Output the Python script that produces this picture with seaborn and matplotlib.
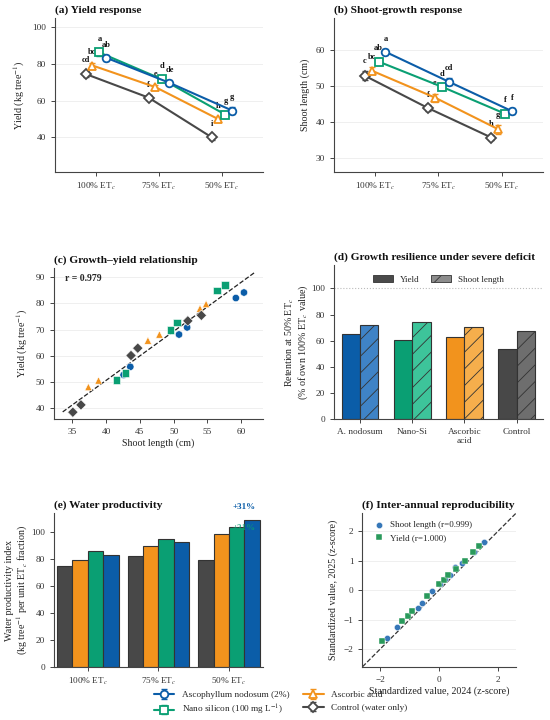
import numpy as np
import pandas as pd
import matplotlib
matplotlib.use('Agg')
import matplotlib.pyplot as plt
import seaborn as sns
from matplotlib.lines import Line2D
from matplotlib.patches import Patch
from matplotlib.legend_handler import HandlerTuple

sns.set_theme(style='ticks')
plt.rcParams['font.family'] = ['Liberation Serif', 'DejaVu Serif']
plt.rcParams['mathtext.fontset'] = 'stix'
plt.rcParams['axes.edgecolor'] = '#444444'
plt.rcParams['axes.linewidth'] = 0.8
plt.rcParams['xtick.color'] = '#444444'
plt.rcParams['ytick.color'] = '#444444'
plt.rcParams['xtick.labelcolor'] = '#333333'
plt.rcParams['ytick.labelcolor'] = '#333333'
plt.rcParams['xtick.major.size'] = 3
plt.rcParams['ytick.major.size'] = 3
plt.rcParams['xtick.major.width'] = 0.7
plt.rcParams['ytick.major.width'] = 0.7
plt.rcParams['xtick.labelsize'] = 6.7
plt.rcParams['ytick.labelsize'] = 6.7
plt.rcParams['axes.labelsize'] = 7.2
plt.rcParams['axes.labelcolor'] = '#222222'
plt.rcParams['hatch.linewidth'] = 0.6

# ---- data ----
treatments = ['Ascophyllum nodosum (2%)', 'Nano silicon (100 mg L$^{-1}$)',
              'Ascorbic acid', 'Control (water only)']
short_names = ['A. nodosum', 'Nano-Si', 'Ascorbic\nacid', 'Control']
levels = ['100% ET$_c$', '75% ET$_c$', '50% ET$_c$']

colors = ['#0B5DA8', '#0A9F73', '#F2931D', '#484848']
light_colors = ['#3F83C6', '#3DC49A', '#F6AE4C', '#6E6E6E']
markers = ['o', 's', '^', 'D']
offsets = [0.165, 0.055, -0.055, -0.165]

# (a) yield means and SE, (b) shoot length means and SE
yield_asco = [83.3, 69.7, 54.5]
yield_nano = [86.2, 71.5, 52.3]
yield_ascorbic = [79.1, 67.3, 49.8]
yield_control = [74.5, 61.6, 40.0]
yield_se_asco = [1.5, 1.4, 2.0]
yield_se_nano = [1.7, 1.5, 1.6]
yield_se_ascorbic = [1.6, 1.4, 1.5]
yield_se_control = [1.8, 1.5, 1.4]
yield_letters_asco = ['ab', 'de', 'g']
yield_letters_nano = ['a', 'd', 'g']
yield_letters_ascorbic = ['bc', 'e', 'h']
yield_letters_control = ['cd', 'f', 'i']

shoot_asco = [59.6, 51.3, 43.1]
shoot_nano = [56.9, 49.9, 42.4]
shoot_ascorbic = [54.4, 46.9, 38.1]
shoot_control = [53.0, 44.0, 35.8]
shoot_se_asco = [0.8, 0.9, 0.8]
shoot_se_nano = [0.9, 0.8, 0.9]
shoot_se_ascorbic = [1.0, 1.1, 1.2]
shoot_se_control = [1.3, 0.9, 0.8]
shoot_letters_asco = ['a', 'cd', 'f']
shoot_letters_nano = ['ab', 'd', 'f']
shoot_letters_ascorbic = ['bc', 'e', 'g']
shoot_letters_control = ['c', 'f', 'h']

# (c) plot-level points (two seasons per level)
pts_shoot_asco = [42.6, 43.6, 50.8, 52.0, 59.2, 60.4]
pts_yield_asco = [52.7, 55.8, 68.1, 70.8, 82.0, 84.1]
pts_shoot_nano = [41.6, 42.9, 49.5, 50.5, 56.4, 57.6]
pts_yield_nano = [50.8, 53.4, 69.8, 72.7, 84.9, 87.0]
pts_shoot_ascorbic = [37.4, 38.9, 46.2, 47.9, 53.9, 54.8]
pts_yield_ascorbic = [48.1, 50.6, 65.8, 68.1, 78.0, 79.7]
pts_shoot_control = [35.1, 36.3, 43.7, 44.7, 52.1, 54.1]
pts_yield_control = [38.5, 41.3, 60.1, 62.9, 73.3, 75.4]

# (d) retention at 50% ETc (% of own 100% ETc)
retention_yield = [65.4, 60.8, 62.6, 53.8]
retention_shoot = [72.1, 74.4, 70.3, 67.4]

# (e) water productivity index
wp_control = [74.6, 82.1, 79.6]
wp_ascorbic = [79.1, 89.6, 99.0]
wp_nano = [86.3, 95.3, 104.0]
wp_asco = [83.1, 92.5, 108.7]

# (f) standardized values 2024 vs 2025
z_shoot_2024 = [-1.76, -1.42, -0.73, -0.59, -0.24, 0.02, 0.19, 0.375, 0.55, 0.79, 1.17, 1.51]
z_shoot_2025 = [-1.61, -1.25, -0.61, -0.45, -0.03, 0.20, 0.36, 0.51, 0.79, 0.93, 1.30, 1.64]
z_yield_2024 = [-1.93, -1.25, -1.07, -0.93, -0.40, 0.01, 0.17, 0.30, 0.56, 0.89, 1.15, 1.36]
z_yield_2025 = [-1.72, -1.06, -0.88, -0.70, -0.19, 0.19, 0.34, 0.50, 0.70, 1.00, 1.29, 1.50]

fig = plt.figure(figsize=(5.5, 7.2), dpi=100)

ax_a = fig.add_axes([0.100, 0.761, 0.378, 0.214])
ax_b = fig.add_axes([0.607, 0.761, 0.380, 0.214])
ax_c = fig.add_axes([0.098, 0.418, 0.380, 0.210])
ax_d = fig.add_axes([0.607, 0.418, 0.380, 0.214])
ax_e = fig.add_axes([0.098, 0.074, 0.380, 0.213])
ax_f = fig.add_axes([0.659, 0.074, 0.279, 0.213])


def title(ax, text):
    ax.set_title(text, loc='left', fontweight='bold', fontsize=8.2, pad=4, color='#111111')


# ---- (a) and (b) response panels ----
yield_means = [yield_asco, yield_nano, yield_ascorbic, yield_control]
yield_ses = [yield_se_asco, yield_se_nano, yield_se_ascorbic, yield_se_control]
yield_lets = [yield_letters_asco, yield_letters_nano, yield_letters_ascorbic, yield_letters_control]
shoot_means = [shoot_asco, shoot_nano, shoot_ascorbic, shoot_control]
shoot_ses = [shoot_se_asco, shoot_se_nano, shoot_se_ascorbic, shoot_se_control]
shoot_lets = [shoot_letters_asco, shoot_letters_nano, shoot_letters_ascorbic, shoot_letters_control]

legend_handles = []
for ax, means, ses, lets in [(ax_a, yield_means, yield_ses, yield_lets),
                             (ax_b, shoot_means, shoot_ses, shoot_lets)]:
    for i in [3, 2, 1, 0]:
        xs = np.arange(3) + offsets[i]
        eb = ax.errorbar(xs, means[i], yerr=ses[i], fmt='none', ecolor=colors[i],
                         elinewidth=1.0, capsize=2, capthick=1.0, zorder=2)
        sns.lineplot(x=xs, y=means[i], ax=ax, color=colors[i], marker=markers[i],
                     markersize=5.5, markerfacecolor='white', markeredgecolor=colors[i],
                     markeredgewidth=1.3, linewidth=1.5, zorder=3)
        for x, m, s, l in zip(xs, means[i], ses[i], lets[i]):
            ax.annotate(l, (x, m + s), xytext=(0, 4.5), textcoords='offset points',
                        ha='center', va='bottom', fontsize=6, fontweight='bold',
                        color='#111111')
        if ax is ax_a:
            proxy = Line2D([], [], color=colors[i], marker=markers[i], markersize=5.5,
                           markerfacecolor='white', markeredgecolor=colors[i],
                           markeredgewidth=1.3, linewidth=1.5)
            legend_handles.append((i, (eb, proxy)))
    ax.set_xticks(range(3))
    ax.set_xticklabels(levels)
    ax.set_xlim(-0.65, 2.65)
    ax.yaxis.grid(True, color='#ececec', lw=0.6)
    ax.set_axisbelow(True)
    ax.set_xlabel('')
    sns.despine(ax=ax)

ax_a.set_ylim(21, 105)
ax_a.set_yticks([40, 60, 80, 100])
ax_a.set_ylabel('Yield (kg tree$^{-1}$)')
title(ax_a, '(a) Yield response')

ax_b.set_ylim(26.2, 69)
ax_b.set_yticks([30, 40, 50, 60])
ax_b.set_ylabel('Shoot length (cm)')
title(ax_b, '(b) Shoot-growth response')

# ---- (c) growth-yield relationship ----
pts_shoot = [pts_shoot_asco, pts_shoot_nano, pts_shoot_ascorbic, pts_shoot_control]
pts_yield = [pts_yield_asco, pts_yield_nano, pts_yield_ascorbic, pts_yield_control]
scatter_df = pd.concat([
    pd.DataFrame({'shoot': pts_shoot[i], 'yield': pts_yield[i], 'treatment': treatments[i]})
    for i in range(4)], ignore_index=True)
sns.scatterplot(data=scatter_df, x='shoot', y='yield', hue='treatment', style='treatment',
                hue_order=treatments, style_order=treatments, palette=colors,
                markers=dict(zip(treatments, markers)), s=28, edgecolor='white',
                linewidth=0.4, legend=False, ax=ax_c, zorder=3)
slope, intercept = np.polyfit(scatter_df['shoot'], scatter_df['yield'], 1)
fit_x = np.linspace(scatter_df['shoot'].min() - 1.5, scatter_df['shoot'].max() + 1.5, 50)
ax_c.plot(fit_x, slope * fit_x + intercept, ls='--', color='#222222', lw=0.9, zorder=2)
ax_c.text(0.053, 0.93, 'r = 0.979', transform=ax_c.transAxes, fontsize=7,
          fontweight='bold', ha='left', va='center')
ax_c.set_xlim(32.3, 63.2)
ax_c.set_ylim(35.9, 93.5)
ax_c.set_xticks([35, 40, 45, 50, 55, 60])
ax_c.set_yticks([40, 50, 60, 70, 80, 90])
ax_c.yaxis.grid(True, color='#ececec', lw=0.6)
ax_c.set_axisbelow(True)
ax_c.set_xlabel('Shoot length (cm)', labelpad=2)
ax_c.set_ylabel('Yield (kg tree$^{-1}$)')
sns.despine(ax=ax_c)
title(ax_c, '(c) Growth\u2013yield relationship')

# ---- (d) retention bars ----
ret_df = pd.DataFrame({
    'cat': short_names * 2,
    'metric': ['Yield'] * 4 + ['Shoot length'] * 4,
    'value': retention_yield + retention_shoot,
})
ax_d.axhline(100, color='#bbbbbb', ls=':', lw=0.8, zorder=0)
sns.barplot(data=ret_df, x='cat', y='value', hue='metric', order=short_names,
            hue_order=['Yield', 'Shoot length'], width=0.7, saturation=1,
            errorbar=None, legend=False, edgecolor='#333333', linewidth=0.8, ax=ax_d)
for k, cont in enumerate(ax_d.containers):
    bars = sorted(cont.patches, key=lambda p: p.get_x())
    for j, bar in enumerate(bars):
        if k == 0:
            bar.set_facecolor(colors[j])
        else:
            bar.set_facecolor(light_colors[j])
            bar.set_hatch('//')
ax_d.set_ylim(0, 118)
ax_d.set_yticks([0, 20, 40, 60, 80, 100])
ax_d.set_xlabel('')
ax_d.set_ylabel('Retention at 50% ET$_c$\n(% of own 100% ET$_c$ value)',
                labelpad=1, linespacing=1.05)
ax_d.legend(handles=[Patch(facecolor='#4a4a4a', edgecolor='#333333', lw=0.6, label='Yield'),
                     Patch(facecolor='#8c8c8c', edgecolor='#333333', lw=0.6, hatch='//',
                           label='Shoot length')],
            loc='upper center', ncol=2, frameon=False, fontsize=6.5,
            handlelength=2.2, handleheight=0.8, columnspacing=1.2,
            bbox_to_anchor=(0.5, 0.985))
sns.despine(ax=ax_d)
title(ax_d, '(d) Growth resilience under severe deficit')

# ---- (e) water productivity ----
wp_order = [3, 2, 1, 0]
wp_vals = [wp_asco, wp_nano, wp_ascorbic, wp_control]
wp_df = pd.concat([
    pd.DataFrame({'level': levels, 'wp': wp_vals[i], 'treatment': treatments[i]})
    for i in wp_order], ignore_index=True)
sns.barplot(data=wp_df, x='level', y='wp', hue='treatment', order=levels,
            hue_order=[treatments[i] for i in wp_order],
            palette=[colors[i] for i in wp_order], width=0.87, saturation=1,
            errorbar=None, legend=False, edgecolor='#333333', linewidth=0.8, ax=ax_e)
bw = 0.87 / 4
ax_e.text(2 + bw, 103.2, '+31%', color=colors[1], fontsize=6.5, fontweight='bold',
          ha='center', va='center', alpha=0.8, zorder=5)
ax_e.text(2 + bw, 118.7, '+31%', color=colors[0], fontsize=6.5, fontweight='bold',
          ha='center', va='center', clip_on=False)
ax_e.set_xlim(-0.48, 2.48)
ax_e.set_ylim(0, 114)
ax_e.set_yticks([0, 20, 40, 60, 80, 100])
ax_e.set_xlabel('')
ax_e.set_ylabel('Water productivity index\n(kg tree$^{-1}$ per unit ET$_c$ fraction)',
                labelpad=1, linespacing=1.05)
sns.despine(ax=ax_e)
title(ax_e, '(e) Water productivity')

# ---- (f) inter-annual reproducibility ----
ax_f.plot([-2.6, 2.6], [-2.6, 2.6], ls='--', color='#333333', lw=0.9, zorder=1)
sns.scatterplot(x=z_shoot_2024, y=z_shoot_2025, color='#3677B8', marker='o', s=20,
                edgecolor='white', linewidth=0.3, label='Shoot length (r=0.999)',
                ax=ax_f, zorder=3)
sns.scatterplot(x=z_yield_2024, y=z_yield_2025, color='#2A9A5C', marker='s', s=20,
                edgecolor='white', linewidth=0.3, label='Yield (r=1.000)',
                ax=ax_f, zorder=3)
ax_f.set_xlim(-2.6, 2.6)
ax_f.set_ylim(-2.6, 2.6)
ax_f.set_xticks([-2, 0, 2])
ax_f.set_yticks([-2, -1, 0, 1, 2])
ax_f.set_aspect('equal', adjustable='box')
ax_f.yaxis.grid(True, color='#ececec', lw=0.6)
ax_f.set_axisbelow(True)
ax_f.set_xlabel('Standardized value, 2024 (z-score)', labelpad=2)
ax_f.set_ylabel('Standardized value, 2025 (z-score)')
ax_f.legend(loc='upper left', frameon=False, fontsize=6.5, handletextpad=0.3,
            borderaxespad=0.4)
sns.despine(ax=ax_f)
title(ax_f, '(f) Inter-annual reproducibility')

# ---- shared legend ----
legend_handles.sort(key=lambda h: h[0])
fig.legend([h for _, h in legend_handles], treatments, loc='lower center',
           bbox_to_anchor=(0.51, -0.008), ncol=2, frameon=False, fontsize=6.7,
           numpoints=1, handlelength=2.2, columnspacing=1.5, labelspacing=0.45,
           handler_map={tuple: HandlerTuple(ndivide=1)})

fig.savefig('out.png', dpi=100)
